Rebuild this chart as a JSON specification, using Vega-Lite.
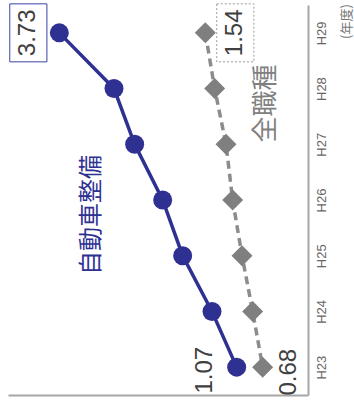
{
  "$schema": "https://vega.github.io/schema/vega-lite/v6.json",
  "width": 300,
  "height": 390,
  "autosize": {"type": "none"},
  "padding": {"left": 8, "top": 5, "right": 46, "bottom": 8},
  "config": {"view": {"stroke": null}, "font": "Liberation Sans"},
  "data": {
    "values": [
      {"year": "H23", "series": "自動車整備", "value": 1.07},
      {"year": "H24", "series": "自動車整備", "value": 1.44},
      {"year": "H25", "series": "自動車整備", "value": 1.88},
      {"year": "H26", "series": "自動車整備", "value": 2.18},
      {"year": "H27", "series": "自動車整備", "value": 2.60},
      {"year": "H28", "series": "自動車整備", "value": 2.91},
      {"year": "H29", "series": "自動車整備", "value": 3.73},
      {"year": "H23", "series": "全職種", "value": 0.68},
      {"year": "H24", "series": "全職種", "value": 0.83},
      {"year": "H25", "series": "全職種", "value": 0.99},
      {"year": "H26", "series": "全職種", "value": 1.13},
      {"year": "H27", "series": "全職種", "value": 1.23},
      {"year": "H28", "series": "全職種", "value": 1.40},
      {"year": "H29", "series": "全職種", "value": 1.54}
    ]
  },
  "encoding": {
    "y": {
      "field": "year", "type": "ordinal", "sort": "descending",
      "scale": {"type": "point", "padding": 0.5},
      "axis": {
        "orient": "right", "title": "(年度)",
        "labelAngle": 270, "labelAlign": "center", "labelBaseline": "top",
        "labelFontSize": 13, "labelColor": "#666666", "labelPadding": 7,
        "ticks": false, "grid": false,
        "domainColor": "#a6a6a6", "domainWidth": 2,
        "titleAngle": 270, "titleX": 38, "titleY": 16,
        "titleAlign": "center", "titleBaseline": "middle",
        "titleFont": "Noto Sans CJK JP", "titleFontSize": 13,
        "titleFontWeight": "normal", "titleColor": "#777777"
      }
    },
    "x": {
      "field": "value", "type": "quantitative",
      "scale": {"domain": [0, 4.5], "reverse": true, "nice": false, "zero": true},
      "axis": {
        "orient": "bottom", "labels": false, "ticks": false, "grid": false,
        "title": null, "domainColor": "#a6a6a6", "domainWidth": 2
      }
    }
  },
  "layer": [
    {
      "transform": [{"filter": "datum.series === '自動車整備'"}],
      "mark": {"type": "line", "color": "#2e3192", "strokeWidth": 3.5}
    },
    {
      "transform": [{"filter": "datum.series === '全職種'"}],
      "mark": {"type": "line", "color": "#8c8c8c", "strokeWidth": 3.5, "strokeDash": [8, 5]}
    },
    {
      "transform": [{"filter": "datum.series === '自動車整備'"}],
      "mark": {"type": "point", "shape": "circle", "filled": true, "size": 361, "color": "#2e3192", "opacity": 1}
    },
    {
      "transform": [{"filter": "datum.series === '全職種'"}],
      "mark": {"type": "point", "shape": "diamond", "filled": true, "size": 440, "color": "#7f7f7f", "opacity": 1}
    },
    {
      "transform": [{"filter": "datum.series === '自動車整備' && datum.year === 'H29'"}],
      "mark": {"type": "point", "shape": "M-0.64,-1H0.64V1H-0.64Z", "size": 3364, "filled": false, "stroke": "#3a43a6", "strokeWidth": 1, "opacity": 1, "xOffset": -31}
    },
    {
      "transform": [{"filter": "datum.series === '自動車整備' && datum.year === 'H29'"}],
      "mark": {"type": "text", "angle": 270, "fontSize": 24, "color": "#404040", "align": "center", "baseline": "middle", "xOffset": -31},
      "encoding": {"text": {"field": "value", "type": "quantitative", "format": ".2f"}}
    },
    {
      "transform": [{"filter": "datum.series === '全職種' && datum.year === 'H29'"}],
      "mark": {"type": "point", "shape": "M-0.64,-1H0.64V1H-0.64Z", "size": 3364, "filled": false, "stroke": "#999999", "strokeWidth": 1, "strokeDash": [2, 2], "opacity": 1, "xOffset": 30}
    },
    {
      "transform": [{"filter": "datum.series === '全職種' && datum.year === 'H29'"}],
      "mark": {"type": "text", "angle": 270, "fontSize": 24, "color": "#404040", "align": "center", "baseline": "middle", "xOffset": 30},
      "encoding": {"text": {"field": "value", "type": "quantitative", "format": ".2f"}}
    },
    {
      "transform": [{"filter": "datum.series === '自動車整備' && datum.year === 'H23'"}],
      "mark": {"type": "text", "angle": 270, "fontSize": 24, "color": "#404040", "align": "center", "baseline": "middle", "xOffset": -32, "yOffset": 3},
      "encoding": {"text": {"field": "value", "type": "quantitative", "format": ".2f"}}
    },
    {
      "transform": [{"filter": "datum.series === '全職種' && datum.year === 'H23'"}],
      "mark": {"type": "text", "angle": 270, "fontSize": 24, "color": "#404040", "align": "center", "baseline": "middle", "xOffset": 26, "yOffset": 5},
      "encoding": {"text": {"field": "value", "type": "quantitative", "format": ".2f"}}
    },
    {
      "transform": [{"filter": "datum.series === '自動車整備' && datum.year === 'H26'"}],
      "mark": {"type": "text", "angle": 270, "font": "Noto Sans CJK JP", "fontSize": 24, "color": "#2e3192", "align": "center", "baseline": "middle", "xOffset": -71, "yOffset": 15},
      "encoding": {"text": {"field": "series", "type": "nominal"}}
    },
    {
      "transform": [{"filter": "datum.series === '全職種' && datum.year === 'H28'"}],
      "mark": {"type": "text", "angle": 270, "font": "Noto Sans CJK JP", "fontSize": 26, "color": "#808080", "align": "center", "baseline": "middle", "xOffset": 51, "yOffset": 15},
      "encoding": {"text": {"field": "series", "type": "nominal"}}
    }
  ]
}
